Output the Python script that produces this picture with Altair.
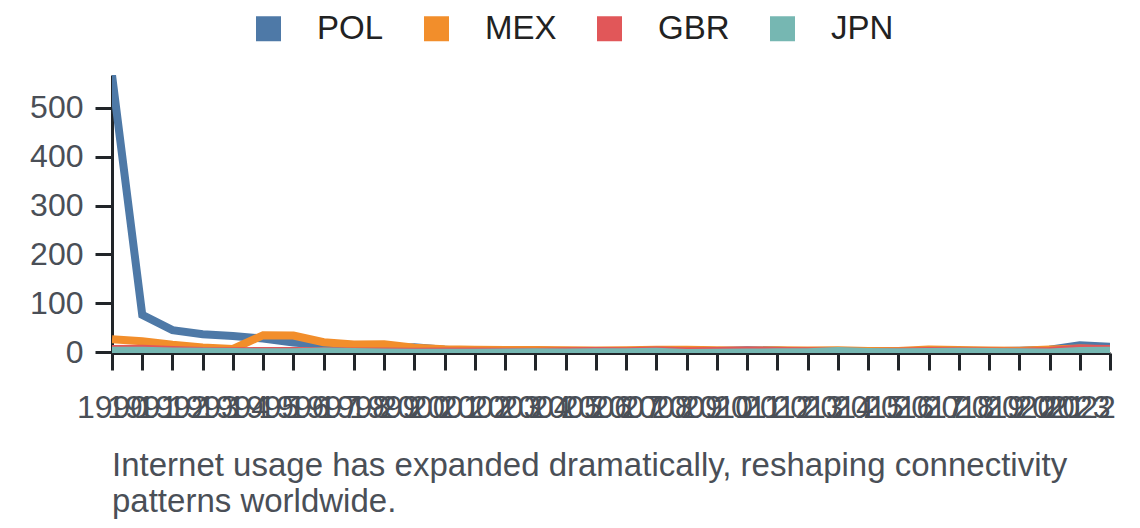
import altair as alt
import pandas as pd

years = list(range(1990, 2024))
countries = ["POL", "MEX", "GBR", "JPN"]
colors = ["#4e79a7", "#f28e2b", "#e15759", "#76b7b2"]

pol = [567, 76.7, 45.3, 36.9, 33.3, 28.1, 19.8, 15.1, 11.7, 7.3, 10.1, 5.5, 1.9, 0.8, 3.6, 2.1, 1.1,
       2.4, 4.2, 3.8, 2.6, 4.3, 3.7, 0.9, 0.0, -0.9, -0.6, 2.0, 1.6, 2.3, 3.4, 5.1, 14.4, 11.5]
mex = [26.7, 22.7, 15.5, 9.8, 7.0, 35.0, 34.4, 20.6, 15.9, 16.6, 9.5, 6.4, 5.0, 4.5, 4.7, 4.0, 3.6,
       4.0, 5.1, 5.3, 4.2, 3.4, 4.1, 3.8, 4.0, 2.7, 2.8, 6.0, 4.9, 3.6, 3.4, 5.7, 7.9, 5.5]
gbr = [7.0, 7.5, 4.6, 2.6, 2.2, 2.7, 2.9, 2.2, 1.8, 1.7, 1.2, 1.5, 1.5, 1.4, 1.4, 2.1, 2.5,
       2.4, 3.5, 2.0, 2.5, 3.9, 2.6, 2.3, 1.5, 0.4, 1.0, 2.6, 2.3, 1.7, 1.0, 2.5, 7.9, 6.8]
jpn = [3.1, 3.3, 1.7, 1.3, 0.7, -0.1, 0.1, 1.7, 0.7, -0.3, -0.7, -0.8, -0.9, -0.3, 0.0, -0.3, 0.2,
       0.1, 1.4, -1.4, -0.7, -0.3, 0.0, 0.3, 2.8, 0.8, -0.1, 0.5, 1.0, 0.5, 0.0, -0.2, 2.5, 3.3]
y_ticks = [0, 100, 200, 300, 400, 500]
caption = ["Internet usage has expanded dramatically, reshaping connectivity",
           "patterns worldwide."]

series = {"POL": pol, "MEX": mex, "GBR": gbr, "JPN": jpn}
rows = []
for c in countries:
    for yr, v in zip(years, series[c]):
        rows.append({"year": str(yr), "country": c, "value": v})
df = pd.DataFrame(rows)

FONT = "Liberation Sans"
TEXT = "#4a4f57"
AXIS = "#212529"
last_year = str(years[-1])

chart = alt.Chart(df).mark_line(strokeWidth=8, clip=True).encode(
    x=alt.X("year:O", scale=alt.Scale(type="point", padding=0),
            axis=alt.Axis(title=None, labelAngle=0, labelOverlap=False, grid=False,
                          labelPadding=22,
                          labelAlign={"condition": {"test": f"datum.label == '{last_year}'",
                                                    "value": "right"},
                                      "value": "center"})),
    y=alt.Y("value:Q", scale=alt.Scale(nice=False),
            axis=alt.Axis(title=None, values=y_ticks, grid=False, labelPadding=12)),
    color=alt.Color("country:N",
                    scale=alt.Scale(domain=countries, range=colors),
                    legend=alt.Legend(
                        title=None, orient="none", direction="horizontal",
                        legendX=140, legendY=-63,
                        symbolType="square", symbolSize=144,
                        symbolStrokeWidth=13, symbolOpacity=1,
                        labelFontSize=33, labelFont=FONT, labelColor="#222222",
                        labelOffset=32, columnPadding=20,
                    )),
).properties(
    width=998, height=278,
    padding={"left": 104, "top": 67, "right": 20, "bottom": 170},
    autosize=alt.AutoSizeParams(type="none"),
    title=alt.TitleParams(text=caption, orient="bottom", anchor="start", frame="group",
                          font=FONT, fontSize=33, fontWeight="normal", color=TEXT,
                          lineHeight=36, offset=27),
).configure_axis(
    labelFont=FONT, labelFontSize=32, labelColor=TEXT,
    domainColor=AXIS, domainWidth=3, tickColor=AXIS, tickWidth=3, tickSize=17,
    zindex=1,
).configure_view(stroke=None)

chart.save("out.html", embed_options={"renderer": "svg", "actions": False})
